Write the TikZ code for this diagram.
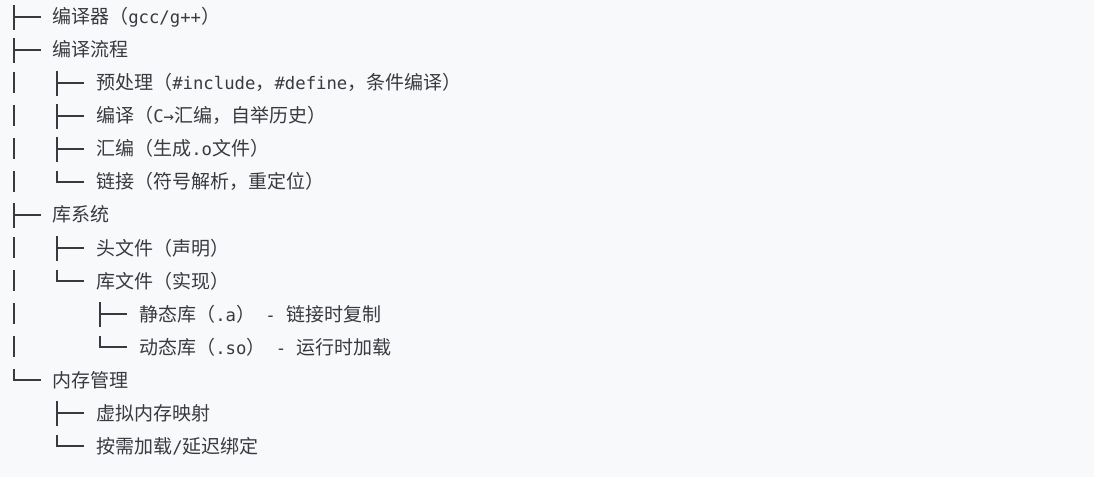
\documentclass[tikz,border=0pt]{standalone}
\usepackage{fontspec}
\setmonofont[Scale=0.91]{DejaVu Sans Mono}
\newfontfamily\zh{Noto Sans CJK SC}
\usetikzlibrary{calc}

\definecolor{codebg}{HTML}{F8F9FB}
\definecolor{codefg}{HTML}{383A3F}

% tree glyphs: column coordinate, row node
\newcommand\branch[2]{%
    \draw[tree] ($(#2.west -| #1)+(0,-12)$) -- ++(0,25);
    \draw[tree] (#2.west -| #1) -- ++(27,0);}
\newcommand\lastbranch[2]{%
    \draw[tree] ($(#2.west -| #1)+(0,-11)$) |- ++(27,11);}
\newcommand\through[2]{%
    \draw[tree] ($(#2.west -| #1)+(0,-11)$) -- ++(0,21);}

\begin{document}
\begin{tikzpicture}[x=0.75pt,y=-0.75pt,
    item/.style={anchor=west,inner sep=0pt,text height=13pt,text depth=2.5pt,
        font=\ttfamily\fontsize{14.25}{17}\selectfont,text=codefg},
    tree/.style={draw=codefg,line width=0.8pt}]
    \fill[codebg] (0,0) rectangle (1094,477);
    % tree columns
    \coordinate (col0) at (14,0);
    \coordinate (col1) at (57,0);
    \coordinate (col2) at (100,0);

    % entries
    \node[item] (cc)   at (52,17)   {{\zh 编译器（}gcc/g++{\zh ）}};
    \node[item] (flow) at (52,50)   {{\zh 编译流程}};
    \node[item] (pre)  at (96,83)   {{\zh 预处理（}\#include{\zh ，}\#define{\zh ，条件编译）}};
    \node[item] (comp) at (96,116)  {{\zh 编译（}C→{\zh 汇编，自举历史）}};
    \node[item] (asm)  at (96,149)  {{\zh 汇编（生成}.o{\zh 文件）}};
    \node[item] (link) at (96,182)  {{\zh 链接（符号解析，重定位）}};
    \node[item] (lib)  at (52,215)  {{\zh 库系统}};
    \node[item] (hdr)  at (96,248)  {{\zh 头文件（声明）}};
    \node[item] (libf) at (96,281)  {{\zh 库文件（实现）}};
    \node[item] (stat) at (139,314) {{\zh 静态库（}.a{\zh ）} - {\zh 链接时复制}};
    \node[item] (dyn)  at (139,347) {{\zh 动态库（}.so{\zh ）} - {\zh 运行时加载}};
    \node[item] (mem)  at (52,380)  {{\zh 内存管理}};
    \node[item] (vmap) at (96,413)  {{\zh 虚拟内存映射}};
    \node[item] (lazy) at (96,446)  {{\zh 按需加载}/{\zh 延迟绑定}};

    % tree lines
    \branch{col0}{cc}
    \branch{col0}{flow}
    \through{col0}{pre}  \branch{col1}{pre}
    \through{col0}{comp} \branch{col1}{comp}
    \through{col0}{asm}  \branch{col1}{asm}
    \through{col0}{link} \lastbranch{col1}{link}
    \branch{col0}{lib}
    \through{col0}{hdr}  \branch{col1}{hdr}
    \through{col0}{libf} \lastbranch{col1}{libf}
    \through{col0}{stat} \branch{col2}{stat}
    \through{col0}{dyn}  \lastbranch{col2}{dyn}
    \lastbranch{col0}{mem}
    \branch{col1}{vmap}
    \lastbranch{col1}{lazy}
\end{tikzpicture}
\end{document}
